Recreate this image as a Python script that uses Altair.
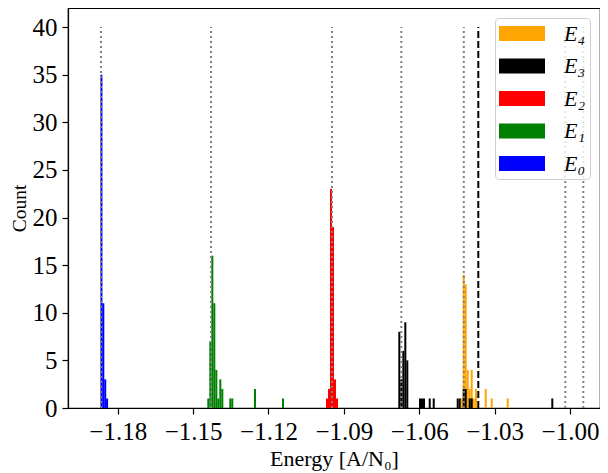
import altair as alt
import pandas as pd

BIN_W = 0.0008

# left bin edges (energy) and counts per level
e4_left = [-1.04351, -1.04271, -1.04192, -1.04112, -1.04033, -1.03953, -1.03873, -1.03782, -1.03396, -1.03157, -1.02521]
e4_count = [1, 14, 13, 4, 2, 4, 1, 2, 2, 1, 1]

e3_left = [-1.06834, -1.06755, -1.06675, -1.06595, -1.06516, -1.06010, -1.05931, -1.05851, -1.05624, -1.05465,
           -1.04510, -1.04431, -1.04271, -1.04192, -1.04033, -1.03953, -1.00746]
e3_count = [8, 3, 6, 9, 5, 1, 1, 1, 1, 1, 1, 1, 2, 2, 1, 1, 1]

e2_left = [-1.09711, -1.09632, -1.09552, -1.09472, -1.09393, -1.09313]
e2_count = [1, 2, 23, 19, 3, 1]

e1_left = [-1.14435, -1.14355, -1.14275, -1.14196, -1.14116, -1.14037, -1.13957, -1.13877, -1.13559, -1.13480, -1.12576, -1.11462]
e1_count = [1, 7, 16, 11, 4, 1, 3, 2, 1, 1, 2, 1]

e0_left = [-1.18688, -1.18613, -1.18537, -1.18462]
e0_count = [35, 11, 3, 1]

names = ["E₄", "E₃", "E₂", "E₁", "E₀"]
colors = ["#FFA500", "#000000", "#FF0000", "#008000", "#0000FF"]

gray_lines = [-1.18665, -1.14287, -1.09472, -1.06715, -1.04228, -1.00189, -0.99472]
dashed_lines = [-1.03651]

x_ticks = [-1.18, -1.15, -1.12, -1.09, -1.06, -1.03, -1.00]
y_ticks = [0, 5, 10, 15, 20, 25, 30, 35, 40]

rows = []
for name, lefts, counts in zip(names, [e4_left, e3_left, e2_left, e1_left, e0_left],
                               [e4_count, e3_count, e2_count, e1_count, e0_count]):
    for l, c in zip(lefts, counts):
        rows.append({"series": name, "x": l, "x2": l + BIN_W, "count": c})
df = pd.DataFrame(rows)

FONT = "Liberation Serif"
xscale = alt.Scale(domain=[-1.19978, -0.98808], nice=False, zero=False)
yscale = alt.Scale(domain=[0, 42], nice=False)

bars = alt.Chart(df).mark_rect(strokeWidth=0, opacity=1).encode(
    x=alt.X("x:Q", scale=xscale, title="Energy [A/N₀]",
            axis=alt.Axis(values=x_ticks, format=".2f", labelPadding=5, titlePadding=4)),
    x2="x2:Q",
    y=alt.Y("count:Q", scale=yscale, title="Count",
            axis=alt.Axis(values=y_ticks, labelPadding=5, titleX=-43, titleY=200,
                          titleAngle=270, titleBaseline="alphabetic", titleAlign="center",
                          titleFontSize=19.5)),
    y2=alt.datum(0),
    color=alt.Color("series:N", scale=alt.Scale(domain=names, range=colors),
                    legend=alt.Legend(title=None, orient="none", legendX=427, legendY=10,
                                      symbolType="M-1,-0.65H3V0.65H-1Z", symbolSize=529,
                                      symbolStrokeWidth=0, symbolOpacity=1,
                                      labelFont=FONT, labelFontSize=22, labelFontStyle="italic",
                                      labelOffset=42, rowPadding=9.5, padding=4,
                                      strokeColor="#cccccc", fillColor="rgba(255,255,255,0.8)",
                                      cornerRadius=4)),
)

gray = alt.Chart(pd.DataFrame({"e": gray_lines})).mark_rule(
    color="gray", strokeDash=[2, 3], strokeWidth=2
).encode(x=alt.X("e:Q", scale=xscale), y=alt.datum(0), y2=alt.datum(40))

dashed = alt.Chart(pd.DataFrame({"e": dashed_lines})).mark_rule(
    color="black", strokeDash=[7, 3], strokeWidth=2
).encode(x=alt.X("e:Q", scale=xscale), y=alt.datum(0), y2=alt.datum(40))

chart = alt.layer(bars, gray, dashed).properties(
    width=532, height=400,
    padding={"left": 60, "top": 0, "right": 0, "bottom": 65},
    autosize=alt.AutoSizeParams(type="none"),
).configure_view(stroke="black", strokeWidth=1.2).configure_axis(
    labelFont=FONT, labelFontSize=25, labelColor="black",
    titleFont=FONT, titleFontSize=22, titleFontWeight="normal", titleColor="black",
    tickColor="black", domainColor="black", tickSize=6, grid=False, domainWidth=1.2, tickWidth=1.2,
)

chart.save("out.html", embed_options={"renderer": "svg", "actions": False})
